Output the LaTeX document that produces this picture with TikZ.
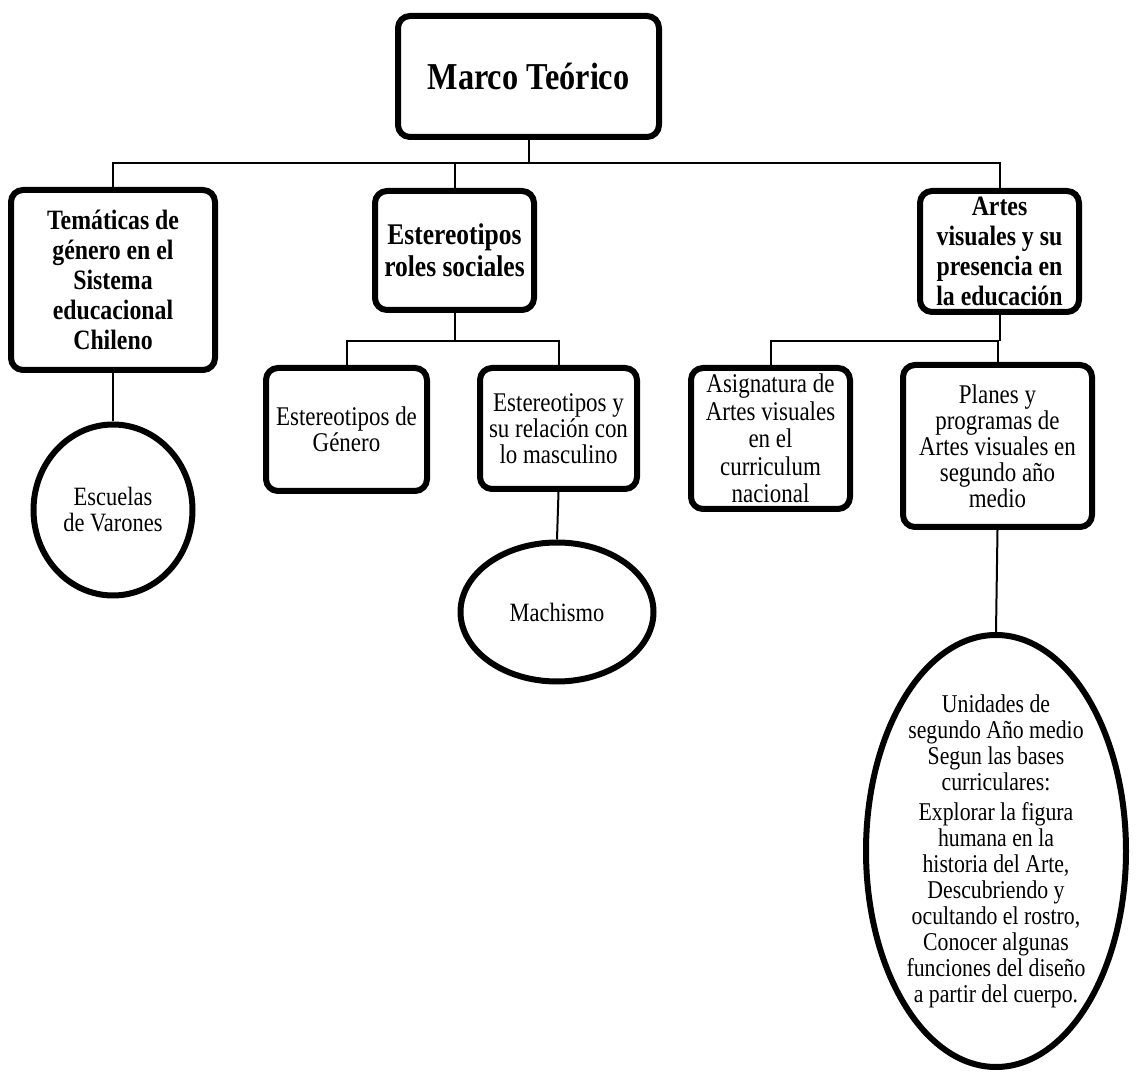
\documentclass[tikz,border=0pt]{standalone}
\usepackage{fontspec}
\setmainfont{Liberation Serif}[FakeStretch=0.85]
\usepackage{tikz}
\usetikzlibrary{shapes.geometric}
\tikzset{basic box/.style={draw,
                           line width=3pt,
                           rounded corners=6pt,
                           align=center,
                           inner sep=1pt}}
\tikzset{head box/.style={basic box,font=\bfseries\fontsize{14}{15}\selectfont}}
\tikzset{leaf box/.style={basic box,font=\fontsize{13.5}{13}\selectfont}}
\tikzset{leaf oval/.style={draw,ellipse,line width=3pt,align=center,inner sep=0pt,
                           font=\fontsize{13.2}{13}\selectfont}}
\tikzset{link/.style={draw,line width=1pt}}

\begin{document}
\begin{tikzpicture}
      [
      x=0.5pt,y=-0.5pt,
      root box/.style={basic box,font=\bfseries\fontsize{19}{22}\selectfont},
      note oval/.style={leaf oval,inner sep=-4pt,font=\fontsize{12.8}{13}\selectfont},
      ]
      \useasboundingbox (0,0) rectangle (1136,1074);

      % boxes
      \node [root box,minimum width=130.5pt,minimum height=60.5pt] (marco) at (528.5,76.5) {Marco Teórico};

      \node [head box,minimum width=102pt,minimum height=90pt] (tematicas) at (113,280)
      {Temáticas de\\género en el\\Sistema\\educacional\\Chileno};
      \node [head box,minimum width=79.5pt,minimum height=59.5pt,
             font=\bfseries\fontsize{15}{16}\selectfont] (roles) at (454.5,250.5)
      {Estereotipos\\roles sociales};
      \node [head box,minimum width=79.5pt,minimum height=60.5pt] (artes) at (999.5,251.5)
      {Artes\\visuales y su\\presencia en\\la educación};

      \node [leaf box,minimum width=80.5pt,minimum height=61.5pt] (genero) at (346.5,429.5)
      {Estereotipos de\\Género};
      \node [leaf box,minimum width=78.5pt,minimum height=60.5pt] (masculino) at (558.5,428.5)
      {Estereotipos y\\su relación con\\lo masculino};
      \node [leaf box,minimum width=79.5pt,minimum height=70.5pt,
             font=\fontsize{13.5}{13.75}\selectfont] (asignatura) at (770.5,438.5)
      {Asignatura de\\Artes visuales\\en el\\curriculum\\nacional};
      \node [leaf box,minimum width=94.5pt,minimum height=81pt] (planes) at (997.5,446)
      {Planes y\\programas de\\Artes visuales en\\segundo año\\medio};

      % ovals
      \node [leaf oval,minimum width=79.5pt,minimum height=85.5pt] (varones) at (113,510)
      {Escuelas\\de Varones};
      \node [leaf oval,minimum width=96.5pt,minimum height=69.5pt] (machismo) at (557,612)
      {Machismo};
      \node [note oval,minimum width=130pt,minimum height=216pt] (unidades) at (996,851)
      {Unidades de\\segundo Año medio\\Segun las bases\\curriculares:\\[2pt]
       Explorar la figura\\humana en la\\historia del Arte,\\Descubriendo y\\ocultando el rostro,\\
       Conocer algunas\\funciones del diseño\\a partir del cuerpo.};

      % edges
      \coordinate (bus) at (528.5,163);
      \coordinate (busroles) at (454.5,341);
      \coordinate (busartes) at (999.5,341);

      \path [link] (marco.south) -- (bus);
      \path [link] (tematicas.north) |- (bus -| artes.north) -- (artes.north);
      \path [link] (roles.north) -- (roles.north |- bus);

      \path [link] (roles.south) -- (busroles);
      \path [link] (genero.north) |- (busroles -| masculino.north) -- (masculino.north);

      \path [link] (artes.south) -- (busartes);
      \path [link] (asignatura.north) |- (busartes -| planes.north) -- (planes.north);

      \path [link] (tematicas.south) -- (varones.north);
      \path [link] (masculino.south) -- (machismo.north);
      \path [link] (planes.south) -- (unidades.north);

    \end{tikzpicture}
\end{document}
